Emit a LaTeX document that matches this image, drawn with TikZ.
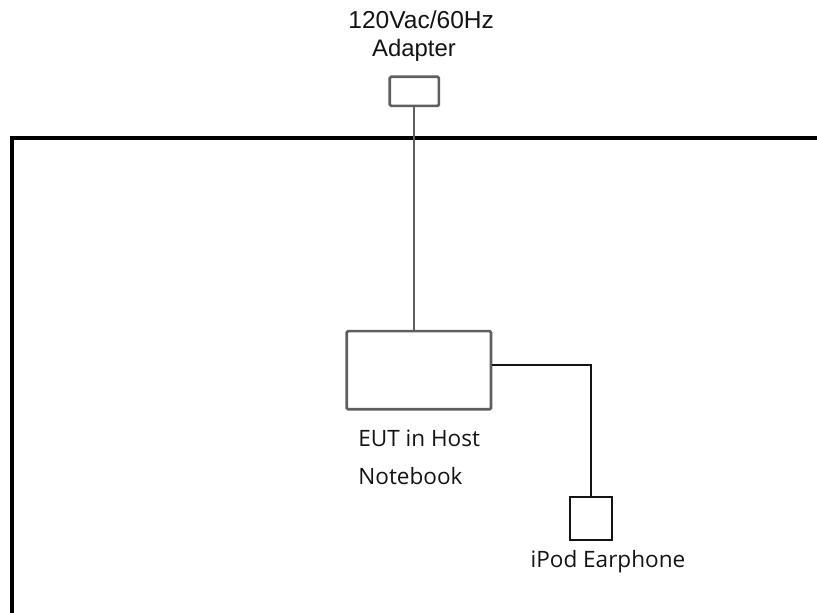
\documentclass[tikz,border=0pt]{standalone}
\usepackage{fontspec}
\setmainfont{Open Sans}
\newfontfamily\arialfont{Liberation Sans}
\usetikzlibrary{positioning, calc}
\definecolor{setupInk}{RGB}{20,20,20}
\definecolor{setupGray}{RGB}{95,95,95}

\begin{document}
\begin{tikzpicture}[
      unit/.style={draw=setupGray, line width=2pt, rounded corners=1pt, inner sep=0pt},
      plug/.style={draw=setupInk, line width=1.3pt, inner sep=0pt},
      frame/.style={draw=black, line width=3pt},
      wire/.style={draw=setupInk, line width=1.3pt},
      lbl/.style={font=\fontsize{17}{20}\selectfont, text=setupInk, inner sep=0pt}
    ]
    \useasboundingbox (0,0) rectangle (21.65,-16.24);

    % setup boundary
    \draw[frame] (0.32,-16.4) -- (0.32,-3.66) -- (21.8,-3.66);

    \node[unit, minimum width=1.30cm, minimum height=0.77cm] (adapter) at (10.98,-2.42) {};
    \node[unit, minimum width=3.82cm, minimum height=2.07cm] (eut) at (11.10,-9.81) {};
    \node[plug, minimum width=1.11cm, minimum height=1.14cm] (earphone) at (15.66,-13.74) {};

    \node[lbl, font=\arialfont\fontsize{18.5}{20}\selectfont] (acText) at (11.16,-0.53) {120Vac/60Hz};
    \node[lbl, font=\arialfont\fontsize{18}{20}\selectfont] (adText) at (10.97,-1.33) {Adapter};
    \node[lbl, anchor=west] (eutText) at (9.49,-11.61) {EUT in Host};
    \node[lbl, anchor=west] (nbText) at (9.49,-12.61) {Notebook};
    \node[lbl] (epText) at (16.11,-14.87) {iPod Earphone};

    \coordinate (eutPort) at ($(eut.east)+(0,0.14)$);
    \draw[wire, draw=setupGray] (adapter.south) -- (adapter.south |- eut.north);
    \draw[wire] (eutPort) -| (earphone.north);
  \end{tikzpicture}
\end{document}
